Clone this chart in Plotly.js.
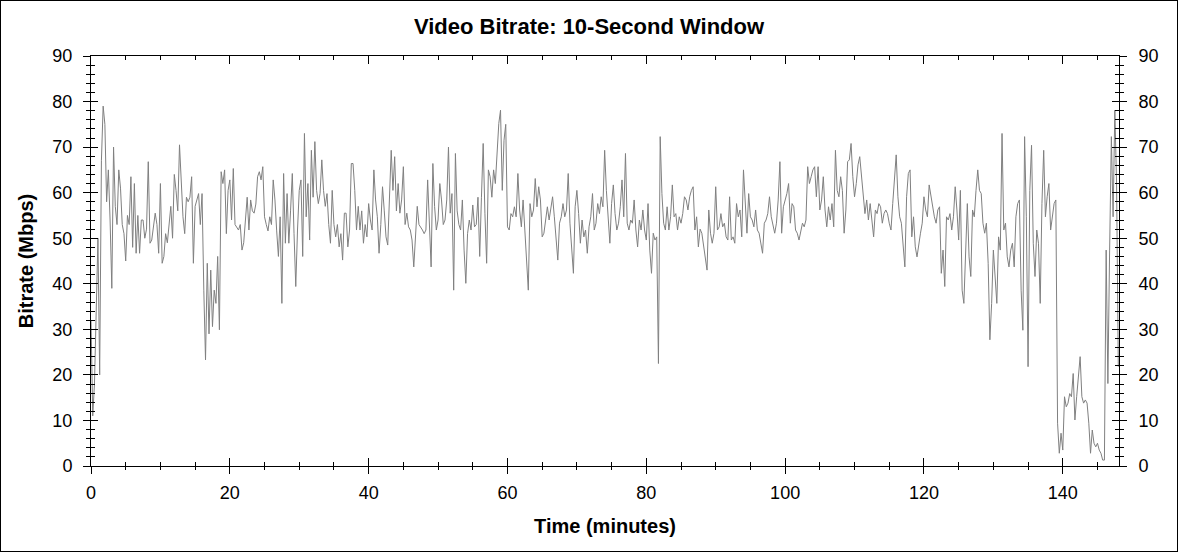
<!DOCTYPE html>
<html>
<head>
<meta charset="utf-8">
<script src="https://cdn.plot.ly/plotly-3.0.1.min.js"></script>
<style>
  html, body { margin: 0; padding: 0; background: #fff; }
  #frame { width: 1176px; height: 550px; border: 1px solid #000; }
  #chart { width: 1176px; height: 550px; }
</style>
</head>
<body>
<div id="frame"><div id="chart"></div></div>
<script>
// Sampling interval of the series (minutes between points)
const SAMPLE_STEP_MIN = 0.25;

// Bitrate in Mbps, 10-second window (0 - 29.5 min)
const rateSeg1 = [
  32, 11, 18, 35, 50, 20, 67, 79, 75, 58,
  65, 54, 39, 70, 57, 53, 65, 61, 53, 51,
  45, 55, 53, 63.5, 48, 62, 46.7, 55, 46.7, 54,
  54, 50, 52, 66.8, 48.9, 49.6, 52.5, 55.5, 53, 46.7,
  62, 44.5, 46, 51, 49, 53, 57, 50, 64, 60.5,
  56, 70.5, 63.5, 54.7, 51, 59, 58, 59, 63.5, 44.5,
  57, 58.4, 59.8, 53, 59.8, 38.6, 23.3, 44.5, 29, 43,
  30.6, 38.6, 35.7, 46, 29.9, 64.6, 62, 65, 51, 60.5,
  62.8, 54, 65.3, 53, 52.5, 51.8, 53, 47.4, 49, 54.7,
  59, 51.8, 58.4, 56, 55.5, 57.5, 63.5, 64.6, 62.8, 65.7,
  54.7, 53, 51.6, 54.7, 53, 62.8, 58.4, 51.6, 46, 54.7,
  35.7, 64.2, 48.9, 59.8, 48.9, 56, 64.2, 51, 39.4
];
// 29.75 - 59.75 min
const rateSeg2 = [
  51.8, 60.5, 62.8, 46, 73, 54.7, 62, 49.6, 69.3, 59,
  71.2, 60.5, 57.6, 59.8, 67.2, 60.5, 57, 59.8, 53, 48.9,
  60.5, 53, 50.3, 53, 48.1, 51, 45.2, 55.5, 55.5, 48.1,
  51.8, 66.4, 66.4, 60.5, 51.8, 57, 51.8, 56, 48.9, 53,
  50.3, 57.6, 54, 51.8, 65, 58.4, 54.7, 46.7, 53, 61.3,
  56, 50.3, 48.5, 60.5, 69.3, 60.5, 67.9, 56, 62, 55.5,
  58.4, 65.7, 53, 55.5, 52.5, 51.8, 49.6, 43.7, 50.3, 57,
  53, 52.5, 51.8, 51, 51.8, 62.8, 53, 43.7, 66.4, 57,
  51.8, 54, 62, 58.4, 53, 54, 58.4, 70, 55.5, 59.8,
  38.6, 68.6, 56, 53, 51.8, 58.4, 47.4, 40.1, 51, 54,
  51.8, 57.3, 52.5, 53, 59, 46, 59, 70.8, 55.5, 44.5,
  65, 63.5, 59, 65, 62, 69.3, 75.2, 78.1, 60.5, 71.5, 75
];
// 60 - 87.75 min
const rateSeg3 = [
  52.5, 51.8, 55.4, 54.7, 56.9, 54.7, 64.2, 56.2, 52.5, 58.4,
  51.8, 45.9, 38.6, 57.6, 54.7, 56.2, 63.1, 56.9, 61.3, 58.4,
  50.3, 51.1, 54.7, 56.9, 54.0, 56.2, 59.1, 54.7, 50.3, 45.2,
  53.3, 54.7, 57.6, 54.7, 56.2, 64.2, 53.3, 47.4, 42.3, 56.9,
  60.5, 55.4, 48.9, 54.0, 50.3, 51.8, 46.7, 52.5, 54.7, 59.8,
  51.8, 53.3, 57.6, 55.4, 59.1, 56.9, 69.3, 60.5, 54.0, 48.9,
  57.6, 61.7, 55.4, 51.8, 53.3, 56.9, 62.8, 54.7, 68.6, 53.3,
  51.8, 54.0, 53.3, 58.4, 51.8, 48.1, 54.0, 51.8, 56.2, 51.8,
  49.6, 57.6, 47.4, 42.3, 51.1, 49.6, 50.3, 22.5, 72.3, 59.8,
  53.3, 51.8, 56.9, 51.8, 54.7, 61.7, 54.7, 55.4, 51.8, 54.7,
  53.3, 55.4, 59.1, 58.4, 56.2, 59.1, 60.5, 61.3, 51.8, 54.7,
  48.1, 52
];
// 88 - 117.25 min
const rateSeg4 = [
  51.1, 48.1, 45.9, 43.0, 56.2, 51.1, 48.9, 51.1, 61.3, 51.8,
  52.5, 55.4, 52.5, 53.3, 50.3, 49.6, 59.1, 49.6, 50.3, 48.9,
  57.6, 54.7, 56.2, 50.3, 65.0, 56.9, 51.1, 59.8, 54.7, 54.0,
  52.5, 56.2, 51.8, 51.1, 48.9, 46.7, 53.3, 54.0, 55.4, 59.1,
  54.7, 52.5, 51.1, 53.3, 58.4, 66.8, 51.1, 56.9, 58.4, 59.8,
  62.0, 53.3, 57.6, 56.9, 51.8, 51.1, 49.6, 51.8, 53.3, 52.5,
  54.0, 65.7, 62.0, 63.5, 65.0, 65.7, 59.1, 65.7, 56.2, 58.4,
  63.5, 56.2, 52.5, 56.9, 54.0, 57.6, 52.5, 69.3, 60.5, 59.1,
  63.5, 60.5, 51.1, 56.2, 66.8, 67.2, 70.8, 63.5, 59.1, 62.0,
  66.1, 67.9, 63.5, 59.8, 55.4, 58.4, 54.0, 57.6, 53.3, 50.3,
  56.2, 55.4, 57.6, 56.9, 53.3, 55.4, 56.2, 55.4, 53.3, 51.8,
  57.6, 62.8, 68.3, 59.1, 54.7, 53.3, 48.1, 43.7
];
// 117.5 - 148 min
const rateSeg5 = [
  59.1, 64.2, 65.0, 50.3, 54.7, 48.1, 45.9, 48.9, 51.1, 53.3,
  59.1, 56.2, 54.7, 61.7, 59.1, 57.6, 54.7, 53.3, 56.2, 56.9,
  42.3, 47.4, 39.4, 54.7, 54.0, 55.4, 51.8, 54.7, 61.3, 56.2,
  49.6, 60.5, 38.6, 35.7, 48.9, 57.6, 45.9, 41.6, 56.2, 54.7,
  60.5, 65.0, 60.5, 59.8, 53.3, 51.1, 53.3, 44.5, 27.7, 35.7,
  47.4, 41.6, 35.7, 50.3, 47.4, 73.0, 51.8, 53.3, 45.9, 43.7,
  47.4, 48.9, 43.7, 54.7, 57.6, 58.4, 38.6, 29.8, 72.3, 54.7,
  21.8, 60.5, 70.4, 48.9, 41.6, 51.8, 48.9, 35.7, 57.6, 69.3,
  54.7, 59.1, 62.0, 51.8, 54.7, 57.6, 58.4, 9.4, 2.8, 7.2,
  3.5, 15.2, 13.0, 13.8, 15.9, 15.2, 20.3, 10.1, 15.2, 19.6,
  24.0, 15.2, 13.8, 14.5, 13.8, 9.4, 2.8, 7.9, 5.0, 4.2,
  5.0, 3.5, 2.8, 1.3, 1.3, 47.4, 18.1, 47.4, 72.3, 54.7,
  78.1, 62, 21.8
];

const xTickVals = [0, 20, 40, 60, 80, 100, 120, 140];
const yTickVals = [0, 10, 20, 30, 40, 50, 60, 70, 80, 90];

const bitrateMbps = rateSeg1.concat(rateSeg2, rateSeg3, rateSeg4, rateSeg5);
const timeMin = bitrateMbps.map((_, i) => i * SAMPLE_STEP_MIN);

const FONT = 'Liberation Sans, Arial, Helvetica, sans-serif';
const X_RANGE = [0, 148.1];
const Y_RANGE = [0, 90];

const traces = [
  {
    type: 'scatter', mode: 'lines',
    x: timeMin, y: bitrateMbps,
    line: { color: '#808080', width: 1 },
    hoverinfo: 'x+y', showlegend: false
  },
  {
    type: 'scatter', mode: 'lines', x: [], y: [],
    xaxis: 'x2', yaxis: 'y2', showlegend: false, hoverinfo: 'skip'
  }
];

const layout = {
  width: 1176, height: 550,
  margin: { l: 90, r: 58, t: 55, b: 85, pad: 0 },
  paper_bgcolor: '#ffffff', plot_bgcolor: '#ffffff',
  font: { family: FONT, size: 18, color: '#000' },
  showlegend: false,
  title: {
    text: '<b>Video Bitrate: 10-Second Window</b>',
    font: { family: FONT, size: 22, color: '#000' },
    xref: 'container', x: 0.5, xanchor: 'center',
    yref: 'container', y: 0.954, yanchor: 'middle'
  },
  xaxis: {
    range: X_RANGE, tickmode: 'array', tickvals: xTickVals,
    ticks: 'outside', ticklen: 7, tickwidth: 1, tickcolor: '#000',
    minor: { dtick: 5, tick0: 0, ticks: 'outside', ticklen: 3, tickcolor: '#000', showgrid: false },
    showline: true, linecolor: '#000', linewidth: 1,
    showgrid: false, zeroline: false,
    tickfont: { family: FONT, size: 18, color: '#000' },
    ticklabelstandoff: 3,
    title: { text: '<b>Time (minutes)</b>', font: { family: FONT, size: 20, color: '#000' }, standoff: 17 },
    automargin: false
  },
  xaxis2: {
    overlaying: 'x', anchor: 'y2', side: 'bottom',
    range: X_RANGE, tickmode: 'array', tickvals: xTickVals,
    ticks: 'inside', ticklen: 8, tickwidth: 1, tickcolor: '#000',
    minor: { dtick: 5, tick0: 0, ticks: 'inside', ticklen: 4, tickcolor: '#000', showgrid: false },
    showline: true, linecolor: '#000', linewidth: 1, mirror: 'allticks',
    showticklabels: false, showgrid: false, zeroline: false, automargin: false
  },
  yaxis: {
    range: Y_RANGE, tickmode: 'array', tickvals: yTickVals,
    ticks: 'outside', ticklen: 7, tickwidth: 1, tickcolor: '#000',
    minor: { dtick: 2, tick0: 0, ticks: 'outside', ticklen: 4, tickcolor: '#000', showgrid: false },
    showline: true, linecolor: '#000', linewidth: 1, mirror: 'allticks',
    showgrid: false, zeroline: false,
    tickfont: { family: FONT, size: 18, color: '#000' },
    ticklabelstandoff: 7,
    title: { text: '<b>Bitrate (Mbps)</b>', font: { family: FONT, size: 20, color: '#000' }, standoff: 13 },
    automargin: false
  },
  yaxis2: {
    overlaying: 'y', anchor: 'x2', side: 'right',
    range: Y_RANGE, tickmode: 'array', tickvals: yTickVals,
    ticks: 'inside', ticklen: 7, tickwidth: 1, tickcolor: '#000',
    minor: { dtick: 2, tick0: 0, ticks: 'inside', ticklen: 4, tickcolor: '#000', showgrid: false },
    showline: true, linecolor: '#000', linewidth: 1, mirror: 'allticks',
    showgrid: false, zeroline: false,
    tickfont: { family: FONT, size: 18, color: '#000' },
    ticklabelstandoff: 15,
    automargin: false
  }
};

Plotly.newPlot('chart', traces, layout, { displayModeBar: false, staticPlot: false, responsive: false });
</script>
</body>
</html>
